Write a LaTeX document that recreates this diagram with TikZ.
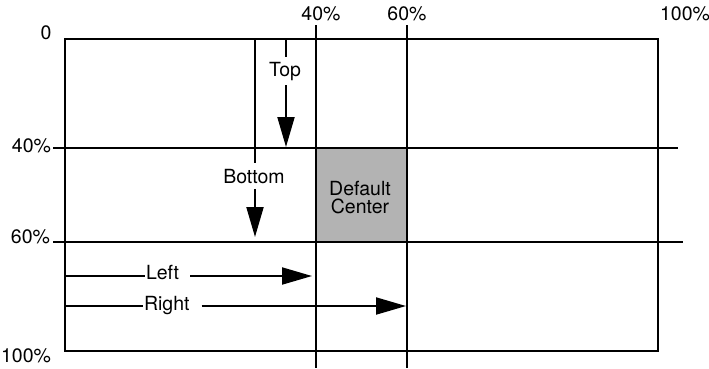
\documentclass[tikz,border=0pt]{standalone}
\usepackage{fontspec}
\setmainfont{TeX Gyre Heros}
\usetikzlibrary{arrows.meta,calc}
\definecolor{boxgray}{RGB}{179,179,179}
\begin{document}
\begin{tikzpicture}[x=1pt,y=-1pt,line width=2pt,
  lbl/.style={inner sep=0pt,font=\fontsize{19.5}{18}\selectfont},
  arr/.style={-{Triangle[length=30pt,width=17pt]}}]
\useasboundingbox (0,0) rectangle (709,368);
% default centre box
\node[fill=boxgray,draw=none,inner sep=0pt,minimum width=91pt,minimum height=94pt] (dc) at (361.5,195) {};
\node[lbl,align=center] (dctxt) at (360,197.5) {Default\\Center};
% frame and grid
\coordinate (TL) at (65,39);
\coordinate (BR) at (658,351);
\draw (TL) rectangle (BR);
\coordinate (v40t) at (316,25);
\coordinate (v40b) at (316,368);
\coordinate (v60t) at (407,25);
\coordinate (v60b) at (407,368);
\coordinate (h40l) at (53,148);
\coordinate (h40r) at (678,148);
\coordinate (h60l) at (53,242);
\coordinate (h60r) at (683,242);
\draw (v40t) -- (v40b);
\draw (v60t) -- (v60b);
\draw (h40l) -- (h40r);
\draw (h60l) -- (h60r);
% axis labels
\node[lbl,anchor=base] (l0) at (46,39) {0};
\node[lbl,anchor=base east] (l40) at (52,152) {40\%};
\node[lbl,anchor=base east] (l60) at (51,243) {60\%};
\node[lbl,anchor=base east] (l100) at (52,362) {100\%};
\node[lbl,anchor=base] (t40) at (321,20) {40\%};
\node[lbl,anchor=base] (t60) at (407,20) {60\%};
\node[lbl,anchor=base] (t100) at (685,20) {100\%};
% Top
\node[lbl,anchor=base,inner ysep=4pt] (top) at (285,76) {Top};
\coordinate (T0) at (286,39);
\coordinate (T1) at (286,147);
\draw (T0) -- (T0 |- top.north);
\draw[arr] (T0 |- top.south) -- (T1);
% Bottom
\node[lbl,anchor=base,inner ysep=4.5pt] (bot) at (254,183) {Bottom};
\coordinate (B0) at (255,39);
\coordinate (B1) at (255,237);
\draw (B0) -- (B0 |- bot.north);
\draw[arr] (B0 |- bot.south) -- (B1);
% Left
\node[lbl,anchor=base west] (left) at (145,279) {Left};
\coordinate (L0) at (65,276);
\coordinate (L1) at (312,276);
\draw (L0) -- (L0 -| left.west);
\draw[arr] ($(left.east |- L0)+(10,0)$) -- (L1);
% Right
\node[lbl,anchor=base west] (right) at (143,310) {Right};
\coordinate (R0) at (65,306);
\coordinate (R1) at (406,306);
\draw (R0) -- (R0 -| right.west);
\draw[arr] ($(right.east |- R0)+(11,0)$) -- (R1);
\end{tikzpicture}
\end{document}
